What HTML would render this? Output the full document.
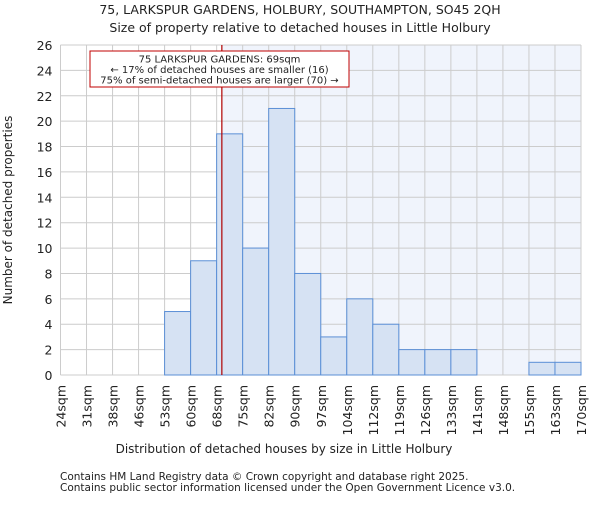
<!DOCTYPE html>
<html><head><meta charset="utf-8"><style>
body{margin:0;background:#fff;font-family:"Liberation Sans","DejaVu Sans",sans-serif}
svg text{font-family:"DejaVu Sans","Liberation Sans",sans-serif;fill:#222}
</style></head><body>
<svg id="chart" width="600" height="500" xmlns="http://www.w3.org/2000/svg">
<text x="300" y="14" font-size="12.5" text-anchor="middle">75, LARKSPUR GARDENS, HOLBURY, SOUTHAMPTON, SO45 2QH</text>
<text x="300" y="32" font-size="12.5" text-anchor="middle">Size of property relative to detached houses in Little Holbury</text>
<g id="plot"></g>
<text transform="translate(12,210) rotate(-90)" font-size="12" text-anchor="middle">Number of detached properties</text>
<text x="284" y="453" font-size="12" text-anchor="middle">Distribution of detached houses by size in Little Holbury</text>
<text x="60" y="480" font-size="10.5">Contains HM Land Registry data © Crown copyright and database right 2025.</text>
<text x="60" y="491" font-size="10.5">Contains public sector information licensed under the Open Government Licence v3.0.</text>
</svg>
<script>
const categories=["24sqm","31sqm","38sqm","46sqm","53sqm","60sqm","68sqm","75sqm","82sqm","90sqm","97sqm","104sqm","112sqm","119sqm","126sqm","133sqm","141sqm","148sqm","155sqm","163sqm","170sqm"];
const counts=[0,0,0,0,5,9,19,10,21,8,3,6,4,2,2,2,0,0,1,1];
const yTicks=[0,2,4,6,8,10,12,14,16,18,20,22,24,26];
const markerBin=6.2;
const NS="http://www.w3.org/2000/svg";
const x0=60.5,x1=581,y0=375,y1=45,yMax=26;
const nb=counts.length;
const X=i=>x0+(x1-x0)*i/nb;
const Y=v=>y0-(y0-y1)*v/yMax;
const g=document.getElementById('plot');
function el(t,a){const e=document.createElementNS(NS,t);for(const k in a)e.setAttribute(k,a[k]);g.appendChild(e);return e;}
let e=el('rect',{x:X(markerBin),y:y1,width:x1-X(markerBin),height:y0-y1,fill:'#f0f4fc'});


for(let i=0;i<=nb;i++){e=el('line',{x1:X(i),x2:X(i),y1:y1,y2:y0,stroke:'#cccccc','stroke-width':1});

}
yTicks.forEach(v=>{e=el('line',{x1:x0,x2:x1,y1:Y(v),y2:Y(v),stroke:'#cccccc','stroke-width':1});


const t=el('text',{x:x0-8,y:Y(v)+5,'font-size':12.5,'text-anchor':'end'});t.textContent=v;

});
counts.forEach((c,i)=>{if(c<=0)return;e=el('rect',{x:X(i),y:Y(c),width:X(i+1)-X(i),height:y0-Y(c),fill:'#d6e2f3',stroke:'#5b8fd6','stroke-width':1});

});
categories.forEach((c,i)=>{const t=el('text',{transform:`translate(${X(i)+5},${y0+10}) rotate(-90)`,'font-size':12.5,'text-anchor':'end'});t.textContent=c;

});
e=el('line',{x1:X(markerBin),x2:X(markerBin),y1:y1,y2:y0,stroke:'#b00000','stroke-width':1.2});


e=el('rect',{x:90,y:51,width:259,height:36,fill:'#fff',stroke:'#c00000','stroke-width':1});


["75 LARKSPUR GARDENS: 69sqm","← 17% of detached houses are smaller (16)","75% of semi-detached houses are larger (70) →"].forEach((s,k)=>{const t=el('text',{x:219.5,y:62.5+k*10.5,'font-size':10,'text-anchor':'middle'});t.textContent=s;

});
</script>
</body></html>
